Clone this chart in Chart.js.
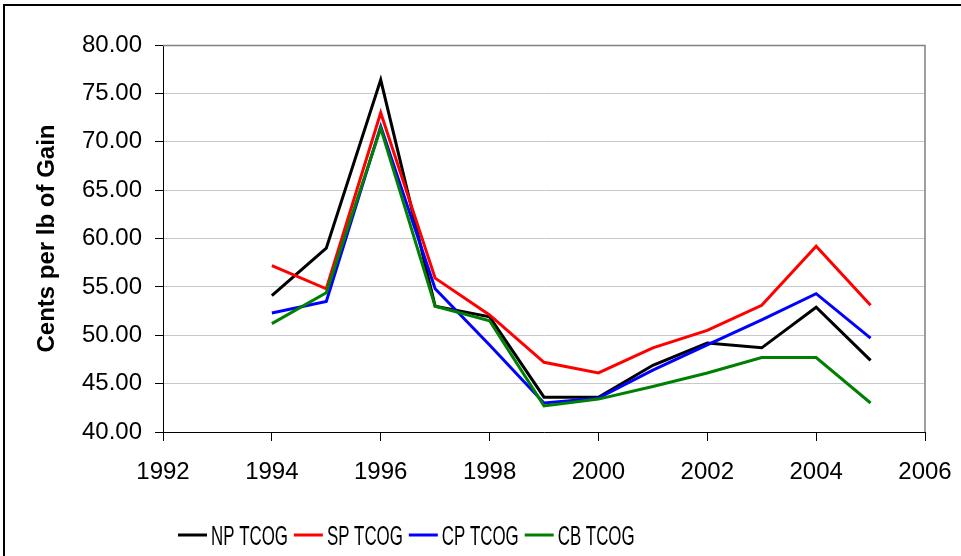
<!DOCTYPE html>
<html>
<head>
<meta charset="utf-8">
<script src="https://cdn.jsdelivr.net/npm/chart.js@4/dist/chart.umd.min.js"></script>
<style>
    html, body { margin: 0; padding: 0; background: #fff; overflow: hidden; }
    #wrap { position: relative; width: 961px; height: 556px; }
</style>
</head>
<body>
<div id="wrap"><canvas id="tcogChart" width="961" height="556"></canvas></div>
<script>
// ===== DATA =====
var years = [1994, 1995, 1996, 1997, 1998, 1999, 2000, 2001, 2002, 2003, 2004, 2005];
var npTcog = [54.1, 59.0, 76.4, 53.0, 51.9, 43.6, 43.6, 46.9, 49.2, 48.7, 52.9, 47.4];
var spTcog = [57.2, 54.8, 73.0, 55.9, 52.1, 47.2, 46.1, 48.7, 50.5, 53.1, 59.2, 53.1];
var cpTcog = [52.3, 53.5, 71.6, 54.8, 49.0, 43.0, 43.5, 46.4, 49.0, 51.6, 54.3, 49.7];
var cbTcog = [51.2, 54.4, 71.4, 53.0, 51.5, 42.7, 43.4, 44.7, 46.1, 47.7, 47.7, 43.0];
var seriesNames = ['NP TCOG', 'SP TCOG', 'CP TCOG', 'CB TCOG'];
var seriesColors = ['#000000', '#ff0000', '#0000ff', '#008000'];
var yTitle = 'Cents per lb of Gain';

var FONT = '"Liberation Sans", Arial, sans-serif';

function toPoints(vals) {
    return vals.map(function(v, i) { return { x: years[i], y: v }; });
}

var allSeries = [npTcog, spTcog, cpTcog, cbTcog];
var datasets = allSeries.map(function(vals, i) {
    return {
        label: seriesNames[i],
        data: toPoints(vals),
        borderColor: seriesColors[i],
        backgroundColor: seriesColors[i],
        borderWidth: 3,
        pointRadius: 0,
        tension: 0,
        fill: false,
        order: allSeries.length - i   // later series on top, like Excel
    };
});

// frame, plot border and squeezed legend
var decorPlugin = {
    id: 'decor',
    beforeDatasetsDraw: function(chart) {
        var a = chart.chartArea, ctx = chart.ctx;
        ctx.save();
        ctx.strokeStyle = '#808080';
        ctx.lineWidth = 1.5;
        ctx.beginPath();
        ctx.moveTo(a.left, a.top + 0.5);
        ctx.lineTo(a.right, a.top + 0.5);
        ctx.lineTo(a.right, a.bottom);
        ctx.stroke();
        ctx.restore();
    },
    afterDraw: function(chart) {
        var ctx = chart.ctx;
        ctx.save();
        // outer frame (only top/left visible)
        ctx.strokeStyle = '#000';
        ctx.lineWidth = 2;
        ctx.strokeRect(4, 5, 2000, 2000);

        // legend
        var x = 178, yLine = 535, yText = 545, sx = 0.625;
        ctx.font = '27px ' + FONT;
        ctx.textBaseline = 'alphabetic';
        ctx.textAlign = 'left';
        chart.data.datasets.forEach(function(ds) {
            ctx.strokeStyle = ds.borderColor;
            ctx.lineWidth = 3;
            ctx.beginPath();
            ctx.moveTo(x, yLine);
            ctx.lineTo(x + 29, yLine);
            ctx.stroke();
            x += 33;
            var w = ctx.measureText(ds.label).width * sx;
            ctx.save();
            ctx.translate(x, yText);
            ctx.scale(sx, 1);
            ctx.fillStyle = '#000';
            ctx.fillText(ds.label, 0, 0);
            ctx.restore();
            x += w + 6;
        });
        ctx.restore();
    }
};

new Chart(document.getElementById('tcogChart'), {
    type: 'line',
    data: { datasets: datasets },
    plugins: [decorPlugin],
    options: {
        responsive: false,
        animation: false,
        layout: { padding: { left: 0, right: 36, top: 45, bottom: 0 } },
        plugins: {
            legend: { display: false },
            tooltip: { enabled: false }
        },
        scales: {
            x: {
                type: 'linear',
                min: 1992,
                max: 2006,
                afterFit: function(s) {
                    s.height = 124;
                    s.paddingLeft = 0;
                    s.paddingRight = 0;
                },
                ticks: {
                    stepSize: 2,
                    color: '#000',
                    padding: 17,
                    maxRotation: 0,
                    font: { family: FONT, size: 24 },
                    callback: function(v) { return String(v); }
                },
                grid: { drawOnChartArea: false, tickColor: '#000', tickLength: 9, tickWidth: 1 },
                border: { color: '#000', width: 1 }
            },
            y: {
                min: 40,
                max: 80,
                afterFit: function(s) { s.width = 163; },
                ticks: {
                    stepSize: 5,
                    color: '#000',
                    padding: 13,
                    font: { family: FONT, size: 24 },
                    callback: function(v) { return v.toFixed(2); }
                },
                grid: { color: '#c8c8c8', lineWidth: 1, tickColor: '#000', tickLength: 8 },
                border: { color: '#000', width: 1 },
                title: {
                    display: true,
                    text: yTitle,
                    color: '#000',
                    padding: { top: 33, bottom: 0 },
                    font: { family: FONT, size: 24, weight: 'bold' }
                }
            }
        }
    }
});
</script>
</body>
</html>
